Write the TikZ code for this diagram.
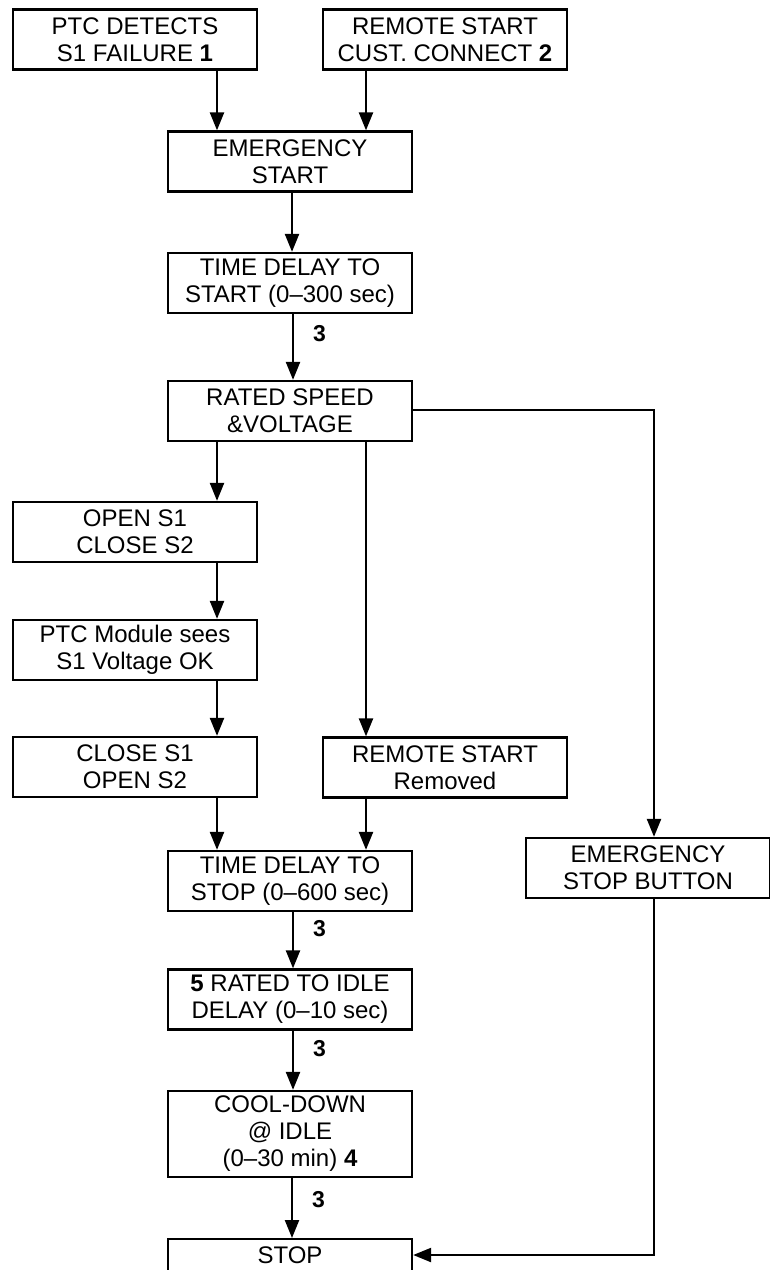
\documentclass[tikz,border=0pt]{standalone}
\usepackage{fontspec}
\setmainfont{Liberation Sans}
\usetikzlibrary{arrows.meta}
\begin{document}
\begin{tikzpicture}[x=1pt,y=-1pt,
  box/.style={draw, line width=2.3pt, minimum width=244pt, minimum height=60pt,
    inner sep=0pt, align=center, font=\fontsize{24}{27}\selectfont},
  arr/.style={line width=2.3pt, -{Triangle[length=18pt,width=14pt]}},
  num/.style={font=\fontsize{23}{26}\selectfont\bfseries, inner sep=0pt}]
\clip (0,0) rectangle (770,1270);
\fill[white] (0,0) rectangle (770,1270);
% nodes
\node[box] (p1) at (135,39.5) {PTC DETECTS\\S1 FAILURE \textbf{1}};
\node[box] (p2) at (445,39.5) {REMOTE START\\CUST. CONNECT \textbf{2}};
\node[box] (em) at (290,161.5) {EMERGENCY\\START};
\node[box] (tds) at (290,283) {TIME DELAY TO\\START (0--300 sec)};
\node[box] (rs) at (290,411) {RATED SPEED\\\&VOLTAGE};
\node[box] (o1) at (135,532) {OPEN S1\\CLOSE S2};
\node[box] (pm) at (135,650) {PTC Module sees\\S1 Voltage OK};
\node[box] (c1) at (135,767) {CLOSE S1\\OPEN S2};
\node[box] (rr) at (445,767.5) {REMOTE START\\Removed};
\node[box] (es) at (648,868) {EMERGENCY\\STOP BUTTON};
\node[box] (tdp) at (290,881) {TIME DELAY TO\\STOP (0--600 sec)};
\node[box] (ri) at (290,999.5) {\textbf{5} RATED TO IDLE\\DELAY (0--10 sec)};
\node[box, minimum height=86pt] (cd) at (290,1134) {COOL-DOWN\\@ IDLE\\(0--30 min) \textbf{4}};
\node[box, anchor=north, minimum height=0pt, text height=24pt, text depth=36pt] (stop) at (290,1238) {STOP};
% connectors
\draw[arr] ([xshift=82pt]p1.south) -- ([xshift=82pt]p1.south |- em.north);
\draw[arr] ([xshift=-79pt]p2.south) -- ([xshift=-79pt]p2.south |- em.north);
\draw[arr] ([xshift=2pt]em.south) -- ([xshift=2pt]tds.north);
\draw[arr] ([xshift=3pt]tds.south) -- node[num, right=19pt, pos=0.3] (l1) {3} ([xshift=3pt]rs.north);
\draw[arr] ([xshift=82pt]o1.north |- rs.south) -- ([xshift=82pt]o1.north);
\draw[arr] ([xshift=82pt]o1.south) -- ([xshift=82pt]pm.north);
\draw[arr] ([xshift=82pt]pm.south) -- ([xshift=82pt]c1.north);
\draw[arr] ([xshift=-79pt]rr.north |- rs.south) -- ([xshift=-79pt]rr.north);
\draw[arr] ([xshift=82pt]c1.south) -- ([xshift=82pt]c1.south |- tdp.north);
\draw[arr] ([xshift=-79pt]rr.south) -- ([xshift=-79pt]rr.south |- tdp.north);
\coordinate (esx) at ([xshift=6pt]es.north);
\draw[arr] ([yshift=1pt]rs.east) -| (esx);
\draw[arr] ([xshift=3pt]tdp.south) -- node[num, right=19pt, pos=0.3] (l2) {3} ([xshift=3pt]ri.north);
\draw[arr] ([xshift=3pt]ri.south) -- node[num, right=19pt, pos=0.3] (l3) {3} ([xshift=3pt]cd.north);
\draw[arr] ([xshift=2pt]cd.south) -- node[num, right=19pt, pos=0.35] (l4) {3} ([xshift=2pt]stop.north);
\draw[arr] (esx |- es.south) |- ([yshift=-17pt]stop.north east);
\end{tikzpicture}
\end{document}
